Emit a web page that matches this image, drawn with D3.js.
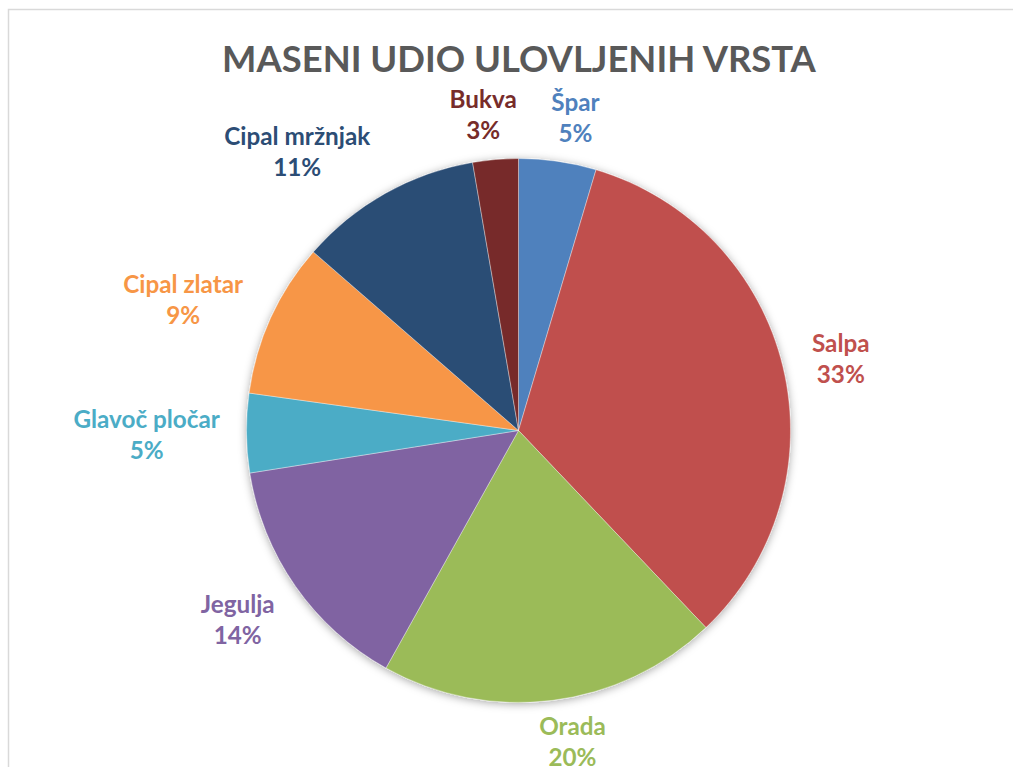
<!DOCTYPE html>
<html>
<head>
<meta charset="utf-8">
<script src="https://cdn.jsdelivr.net/npm/d3@7"></script>
<style>
  html, body { margin: 0; padding: 0; background: #fff; }
  svg { display: block; }
  text { font-family: Lato, "Open Sans", sans-serif; font-weight: bold; }
</style>
</head>
<body>
<div id="chart"></div>
<script>
//Chart data (clockwise from 12 o'clock)
var species = ["Špar", "Salpa", "Orada", "Jegulja", "Glavoč pločar", "Cipal zlatar", "Cipal mržnjak", "Bukva"];
var shares = [4.6, 33.3, 20.2, 14.4, 4.7, 9.2, 10.9, 2.7];
var colors = ["#4F81BD", "#C0504D", "#9BBB59", "#8064A2", "#4BACC6", "#F79646", "#2C4D75", "#772C2A"];
var title = "MASENI UDIO ULOVLJENIH VRSTA";

//Sizing
var width = 1013, height = 767;
var cx = 518.5, cy = 430.5, radius = 272;
var labelGap = 26.5;
var lineStep = 31;
//label angle nudges (degrees) where the best-fit placement moves a label off the slice middle
var labelNudge = {"Špar": 2, "Salpa": 0.9, "Orada": -2.5, "Jegulja": 1,
	"Cipal zlatar": -3, "Cipal mržnjak": -9, "Bukva": -1.5};

var svg = d3.select('#chart').append('svg')
	.attr('width', width)
	.attr('height', height);

//Chart area frame
svg.append('rect')
	.attr('x', 8.5).attr('y', 9.5)
	.attr('width', width + 20).attr('height', height + 20)
	.attr('fill', 'none')
	.attr('stroke', '#d9d9d9')
	.attr('stroke-width', 1.5);

//Shadow filter
var defs = svg.append('defs');
var filter = defs.append('filter').attr('id', 'shadow')
	.attr('x', '-10%').attr('y', '-10%').attr('width', '120%').attr('height', '120%');
filter.append('feDropShadow')
	.attr('dx', 0).attr('dy', 1.5)
	.attr('stdDeviation', 4)
	.attr('flood-color', '#000')
	.attr('flood-opacity', 0.35);

//Title, sized to the reference width
var titleText = svg.append('text')
	.attr('x', 519).attr('y', 72)
	.attr('text-anchor', 'middle')
	.attr('fill', '#595959')
	.style('font-size', '40px')
	.text(title);
var tw = titleText.node().getComputedTextLength();
titleText.style('font-size', (40 * 594 / tw) + 'px');

//Pie
var pie = d3.pie().sort(null).value(function(d) { return d; });
var arcs = pie(shares);
var arc = d3.arc().innerRadius(0).outerRadius(radius);

var g = svg.append('g').attr('transform', 'translate(' + cx + ',' + cy + ')');
g.append('g').attr('filter', 'url(#shadow)')
	.selectAll('path')
	.data(arcs)
	.enter().append('path')
		.attr('d', arc)
		.attr('fill', function(d, i) { return colors[i]; })
		.attr('stroke', '#fff')
		.attr('stroke-opacity', 0.6)
		.attr('stroke-width', 0.6);

//Label font size: fit "Cipal mržnjak" to the reference width
var probe = svg.append('text').style('font-size', '24px').text("Cipal mržnjak");
var labelSize = 24 * 146 / probe.node().getComputedTextLength();
probe.remove();

//Labels placed just outside the pie edge along the slice middle
var labels = g.append('g').selectAll('g.label')
	.data(arcs)
	.enter().append('g')
		.attr('class', 'label');
labels.each(function(d, i) {
	var sel = d3.select(this);
	var t = sel.append('text')
		.attr('text-anchor', 'middle')
		.attr('fill', colors[i])
		.style('font-size', labelSize + 'px');
	t.append('tspan').attr('x', 0).attr('y', 0).text(species[i]);
	t.append('tspan').attr('x', 0).attr('y', lineStep).text(Math.round(d.value) + '%');
	var bb = t.node().getBBox();
	//center the text box on the origin
	t.attr('transform', 'translate(0,' + (-(bb.y + bb.height / 2)) + ')');
	var a = (d.startAngle + d.endAngle) / 2 + (labelNudge[species[i]] || 0) * Math.PI / 180;
	var s = Math.sin(a), c = -Math.cos(a);
	//effective box height: the two text lines without their padding
	var h = lineStep + 2;
	var dist = radius + labelGap + Math.abs(s) * bb.width / 2 + Math.abs(c) * h / 2;
	var x = s * dist, y = c * dist;
	//keep the label inside the chart area
	var maxY = height - cy - 26;
	if (y > maxY) y = maxY;
	sel.attr('transform', 'translate(' + x + ',' + y + ')');
});
</script>
</body>
</html>
